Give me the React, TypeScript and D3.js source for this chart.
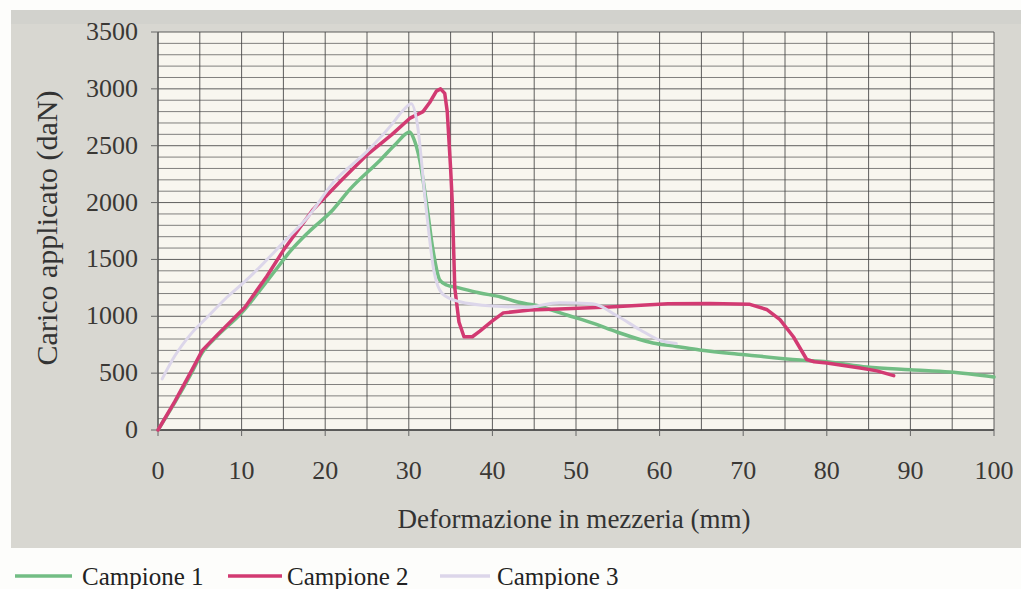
import React from "react";
import * as d3 from "d3";

const xTicks = [0, 10, 20, 30, 40, 50, 60, 70, 80, 90, 100];
const yTicks = [0, 500, 1000, 1500, 2000, 2500, 3000, 3500];
const xTitle = "Deformazione in mezzeria (mm)";
const yTitle = "Carico applicato (daN)";
const seriesNames = ["Campione 1", "Campione 2", "Campione 3"];
const seriesColors = ["#72bd84", "#d23a72", "#dcd6ea"];

const campione1: [number, number][] = [
  [0, 0], [2, 240], [4, 500], [5.3, 680], [7, 820], [10, 1030], [12, 1210], [14, 1400], [15.8, 1570],
  [18, 1740], [20.9, 1935], [23, 2120], [26.6, 2375], [28.5, 2520], [30.1, 2620],
  [30.6, 2560], [31.3, 2375], [32.2, 1950], [32.9, 1580], [33.7, 1320], [34.5, 1275],
  [36, 1250], [38.5, 1205], [41, 1170], [43, 1125], [45.3, 1095], [48.9, 1011],
  [52, 940], [54.9, 862], [59.2, 765], [62, 735], [64.8, 704], [70.5, 660], [76.8, 616],
  [80, 600], [84.8, 554], [90, 530], [94.7, 510], [100, 466],
];

const campione2: [number, number][] = [
  [0, 0], [2, 250], [4, 520], [5.3, 700], [7, 830], [10.4, 1080], [13, 1350], [15, 1580],
  [18.5, 1935], [22, 2200], [25, 2420], [28, 2600], [30.1, 2740], [31.7, 2800],
  [32.5, 2880], [33.3, 2980], [33.8, 3000], [34.3, 2960], [34.6, 2800], [35, 2300],
  [35.2, 2000], [35.5, 1250], [36, 950], [36.6, 820], [37.6, 820], [38.5, 870],
  [40, 960], [41.3, 1030], [44.5, 1055], [48, 1065], [54, 1082], [61, 1110], [66, 1112],
  [70.8, 1105], [72.8, 1060], [74.4, 970], [76, 820], [77.6, 620], [78.5, 600], [80, 590],
  [84, 545], [86, 520], [88, 478],
];

const campione3: [number, number][] = [
  [0.5, 450], [2, 650], [4, 850], [6, 1000], [8, 1150], [10, 1280], [12, 1420], [15, 1650],
  [18, 1880], [21, 2180], [25, 2450], [28, 2690], [29.3, 2810], [30.3, 2870], [31, 2700],
  [32, 2000], [33, 1400], [34, 1200], [36, 1130], [40, 1090], [44, 1080], [48, 1120],
  [52, 1110], [55, 1000], [57.7, 880], [60, 790], [62, 760],
];

const allSeries = [campione1, campione2, campione3];

const W = 1021;
const H = 589;
const left = 158;
const right = 994;
const top = 32;
const bottom = 430;

export default function App() {
  const x = d3.scaleLinear().domain([0, 100]).range([left, right]);
  const y = d3.scaleLinear().domain([0, 3500]).range([bottom, top]);
  const line = d3
    .line<[number, number]>()
    .x((d) => x(d[0]))
    .y((d) => y(d[1]))
    .curve(d3.curveMonotoneX);
  const lineLin = d3
    .line<[number, number]>()
    .x((d) => x(d[0]))
    .y((d) => y(d[1]))
    .curve(d3.curveLinear);

  const vGrid = d3.range(0, 101, 5);
  const hGrid = d3.range(0, 3501, 100);
  const font = "'Liberation Serif', 'DejaVu Serif', serif";
  const legendX = [[15, 72, 82], [228, 282, 287], [440, 490, 497]];

  return (
    <svg
      width={W}
      height={H}
      style={{ position: "absolute", left: 0, top: 0, background: "#fdfdfb" }}
    >
      <rect x={11} y={10} width={W - 11} height={538} fill="#d8d7d1" />
      <rect x={11} y={10} width={W - 11} height={14} fill="#cfceca" opacity={0.6} />
      <rect x={left} y={top} width={right - left} height={bottom - top} fill="#f8f6ef" />
      {hGrid.map((v) => (
        <line
          key={"h" + v}
          x1={left}
          x2={right}
          y1={y(v)}
          y2={y(v)}
          stroke="#4f4f4f"
          strokeWidth={1}
          opacity={v % 500 === 0 ? 0.9 : 0.7}
        />
      ))}
      {vGrid.map((v) => (
        <line
          key={"v" + v}
          x1={x(v)}
          x2={x(v)}
          y1={top}
          y2={bottom}
          stroke="#444"
          strokeWidth={1}
          opacity={0.85}
        />
      ))}
      <line x1={left} x2={left} y1={top} y2={bottom} stroke="#555" strokeWidth={1.2} />
      <line x1={left} x2={right} y1={bottom} y2={bottom} stroke="#444" strokeWidth={1.5} />
      {yTicks.map((v) => (
        <g key={"yt" + v}>
          <line x1={left - 7} x2={left} y1={y(v)} y2={y(v)} stroke="#666" strokeWidth={1} />
          <text
            x={138}
            y={y(v) + 8}
            textAnchor="end"
            fontFamily={font}
            fontSize={26}
            fill="#3a3835"
          >
            {v}
          </text>
        </g>
      ))}
      {xTicks.map((v) => (
        <g key={"xt" + v}>
          <line x1={x(v)} x2={x(v)} y1={bottom} y2={bottom + 6} stroke="#666" strokeWidth={1} />
          <text
            x={x(v)}
            y={479}
            textAnchor="middle"
            fontFamily={font}
            fontSize={26}
            fill="#3a3835"
          >
            {v}
          </text>
        </g>
      ))}
      <text
        x={(left + right) / 2 - 2}
        y={528}
        textAnchor="middle"
        fontFamily={font}
        fontSize={27}
        fill="#333"
      >
        {xTitle}
      </text>
      <text
        transform={`translate(57, ${228}) rotate(-90)`}
        textAnchor="middle"
        fontFamily={font}
        fontSize={30}
        fill="#333"
      >
        {yTitle}
      </text>
      {allSeries.map((s, i) => (
        <path
          key={"s" + i}
          d={(i === 1 ? lineLin : line)(s) || ""}
          fill="none"
          stroke={seriesColors[i]}
          strokeWidth={i === 2 ? 3 : 3.5}
          strokeLinejoin="round"
          strokeLinecap="round"
        />
      ))}
      {seriesNames.map((n, i) => (
        <g key={"lg" + i}>
          <line
            x1={legendX[i][0]}
            x2={legendX[i][1]}
            y1={576}
            y2={576}
            stroke={seriesColors[i]}
            strokeWidth={3.5}
          />
          <text x={legendX[i][2]} y={585} fontFamily={font} fontSize={25} fill="#222">
            {n}
          </text>
        </g>
      ))}
    </svg>
  );
}
